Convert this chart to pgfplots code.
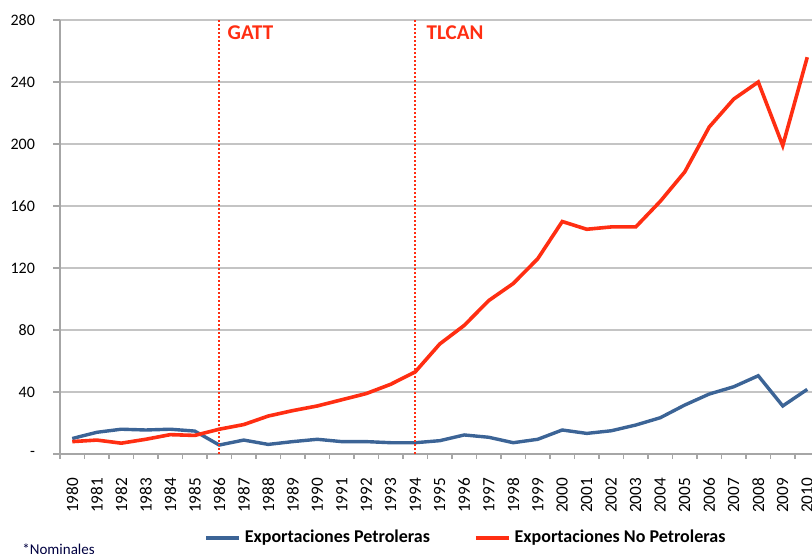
\documentclass[border=0pt]{standalone}
\usepackage{fontspec}
\setmainfont{Carlito}
\usepackage{pgfplots}
\pgfplotsset{compat=1.18}
\definecolor{oilblue}{HTML}{3C6496}
\definecolor{nonoil}{HTML}{FF2E12}
\definecolor{gridgray}{HTML}{C4C4C4}
\definecolor{axisgray}{HTML}{A6A6A6}
\begin{document}
\begin{tikzpicture}
\begin{axis}[
  at={(30pt,-227pt)}, anchor=south west,
  scale only axis, width=379.75pt, height=217pt,
  xmin=1979.5, xmax=2010.5, ymin=0, ymax=280,
  axis x line*=bottom, axis y line*=left,
  axis line style={axisgray, line width=0.8pt},
  xtick={1980,...,2010},
  minor xtick={1979.5,1980.5,...,2010.5},
  major x tick style={draw=none},
  minor x tick style={axisgray, line width=0.8pt},
  ytick={0,40,...,280},
  yticklabels={{-\hspace{4.5pt}},40,80,120,160,200,240,280},
  y tick style={axisgray, line width=0.8pt},
  tick align=outside, major tick length=3.5pt, minor tick length=2.5pt,
  ymajorgrids, grid style={gridgray, line width=0.8pt},
  /pgf/number format/assume math mode=true,
  x tick label style={/pgf/number format/1000 sep=, yshift=-5pt, rotate=90, anchor=east,
    font=\fontsize{8.6}{9}\selectfont},
  y tick label style={xshift=-5.5pt, font=\fontsize{8}{9}\selectfont},
  legend style={at={(0.1817,-0.1935)}, anchor=west, draw=none, fill=none,
    legend columns=2, font=\bfseries\fontsize{9}{10}\selectfont,
    /tikz/every even column/.append style={column sep=20pt}},
  legend image code/.code={\draw[#1] (0pt,0pt) -- (16.5pt,0pt);},
]
\addplot[oilblue, line width=1.7pt] coordinates {
(1980,10)(1981,14)(1982,16)(1983,15.5)(1984,16)(1985,14.8)(1986,5.8)(1987,9)
(1988,6.2)(1989,8)(1990,9.5)(1991,8)(1992,8)(1993,7.3)(1994,7.3)(1995,8.6)
(1996,12.3)(1997,10.8)(1998,7.3)(1999,9.5)(2000,15.5)(2001,13.3)(2002,15)
(2003,18.7)(2004,23.4)(2005,31.6)(2006,38.7)(2007,43.4)(2008,50.5)(2009,31)
(2010,41.7)};
\addlegendentry{Exportaciones Petroleras}
\addplot[nonoil, line width=1.8pt] coordinates {
(1980,8)(1981,9)(1982,7)(1983,9.5)(1984,12.5)(1985,12)(1986,16)(1987,19)
(1988,24.5)(1989,28)(1990,31)(1991,35)(1992,39)(1993,45)(1994,53)(1995,71)
(1996,83)(1997,99)(1998,110)(1999,126)(2000,150)(2001,145)(2002,146.5)
(2003,146.5)(2004,163)(2005,182)(2006,211)(2007,229)(2008,240)(2009,199)
(2010,256)};
\addlegendentry{Exportaciones No Petroleras}
\draw[nonoil, line width=1pt, dash pattern=on 1pt off 1pt] (axis cs:1986,0) -- (axis cs:1986,280);
\draw[nonoil, line width=1pt, dash pattern=on 1pt off 1pt] (axis cs:1994,0) -- (axis cs:1994,280);
\node[anchor=north west, inner sep=0pt, text=nonoil, font=\bfseries\fontsize{10.5}{12}\selectfont,
  xshift=4pt, yshift=-2.5pt] at (axis cs:1986,280) {GATT};
\node[anchor=north west, inner sep=0pt, text=nonoil, font=\bfseries\fontsize{10.5}{12}\selectfont,
  xshift=5.5pt, yshift=-2.5pt] at (axis cs:1994,280) {TLCAN};
\end{axis}
\node[anchor=base west, inner sep=0pt, font=\fontsize{7.5}{9}\selectfont, text=black!75!blue]
  at (11pt,-277pt) {*Nominales};
\pgfresetboundingbox
\useasboundingbox (0pt,0pt) rectangle (406pt,-276.5pt);
\end{tikzpicture}
\end{document}
